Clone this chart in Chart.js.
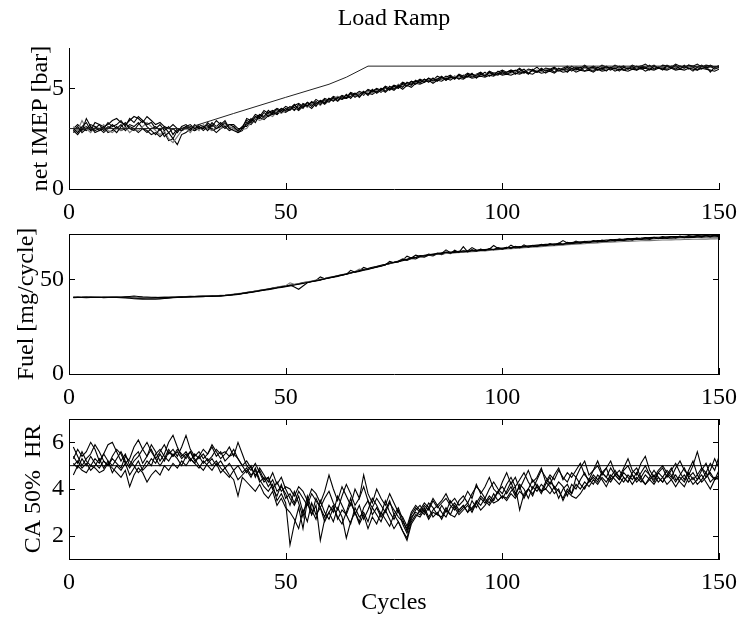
<!DOCTYPE html>
<html>
<head>
<meta charset="utf-8">
<title>Load Ramp</title>
<script src="https://cdn.jsdelivr.net/npm/chart.js@4.4.0/dist/chart.umd.min.js"></script>
<style>
  body { margin: 0; background: #fff; }
  #wrap { position: relative; width: 740px; height: 619px; }
  #wrap canvas { position: absolute; left: 0; }
</style>
</head>
<body>
<div id="wrap">
  <canvas id="grafico_imep" width="740" height="232" style="top:0px"></canvas>
  <canvas id="grafico_fuel" width="740" height="198" style="top:220px"></canvas>
  <canvas id="grafico_ca50" width="740" height="201" style="top:418px"></canvas>
</div>
<script>
// x axis: engine cycles, first sample is cycle 1
var first_cycle = 1;
var cycle_ticks = [0, 50, 100, 150];

// ---- net IMEP [bar] ----
var imep_ticks = [0, 5];
// setpoint ramp, read at its corners
var imep_ref_x = [0, 27, 38, 50, 60, 64, 69, 150];
var imep_ref_y = [3.0, 3.0, 3.75, 4.55, 5.2, 5.55, 6.1, 6.1];
var imep_1 = [3.0,2.8,3.1,3.3,2.9,3.0,3.2,2.9,3.1,3.0, 2.8,3.1,3.3,3.0,2.9,3.2,3.4,3.1,2.9,2.7, 3.0,2.6,2.8,2.5,2.9,3.0,3.1,2.9,3.2,3.0,
  3.1,2.9,3.2,3.0,3.1,3.3,3.0,2.9,2.8,3.0, 3.2,3.5,3.3,3.7,3.6,3.9,3.7,3.8,4.0,3.9, 4.1,3.9,4.2,4.0,4.3,4.1,4.35,4.2,4.45,4.3,
  4.55,4.4,4.6,4.5,4.75,4.55,4.7,4.85,4.65,4.9, 4.8,5.0,4.85,5.1,4.95,5.15,5.05,5.3,5.2,5.4, 5.25,5.45,5.3,5.5,5.35,5.55,5.4,5.6,5.45,5.65,
  5.5,5.7,5.55,5.65,5.75,5.6,5.8,5.65,5.85,5.7, 5.8,5.9,5.7,5.85,5.95,5.75,5.9,5.8,6.0,5.85, 5.95,5.8,6.0,5.9,6.05,5.85,6.0,5.9,6.1,5.95,
  5.85,6.05,5.9,6.1,5.95,6.0,5.85,6.05,5.95,6.1, 5.9,6.05,6.0,6.15,5.95,6.05,5.9,6.1,6.0,6.15, 5.95,6.1,6.0,5.85,6.05,6.15,6.0,6.1,5.95,6.05, 6.0];
var imep_2 = [2.9,3.1,2.8,3.0,3.2,3.1,2.9,3.0,3.3,3.1, 3.2,3.4,3.1,3.5,3.3,3.6,3.4,3.2,3.3,3.0, 3.2,2.9,3.1,2.7,3.0,2.9,3.1,3.2,3.0,3.1,
  3.0,3.3,3.1,3.4,3.2,3.0,3.2,3.1,2.9,3.1, 3.4,3.3,3.6,3.5,3.8,3.6,3.75,3.95,3.8,4.0, 3.9,4.15,4.0,4.2,4.1,4.35,4.2,4.4,4.25,4.5,
  4.35,4.55,4.45,4.7,4.5,4.75,4.6,4.8,4.7,4.95, 4.75,4.9,5.05,4.9,5.1,5.0,5.25,5.1,5.35,5.2, 5.4,5.3,5.5,5.35,5.45,5.6,5.4,5.55,5.5,5.65,
  5.55,5.6,5.75,5.5,5.7,5.6,5.8,5.7,5.65,5.85, 5.7,5.8,5.9,5.75,5.85,5.7,5.95,5.8,5.9,5.75, 5.9,6.0,5.85,5.95,5.8,6.0,5.9,6.05,5.85,6.0,
  6.05,5.9,6.0,5.85,6.05,5.95,6.1,5.9,6.0,5.95, 6.1,5.95,6.0,5.9,6.1,6.0,5.95,6.15,6.05,5.95, 6.1,6.0,6.15,6.05,5.9,6.1,6.0,6.15,6.05,6.1, 5.95];
var imep_3 = [3.1,2.9,3.4,3.0,2.8,3.1,3.0,3.2,2.9,2.8, 3.0,2.9,3.1,2.8,3.0,2.9,3.1,3.3,3.1,2.9, 2.7,2.9,2.5,2.3,2.6,2.9,3.0,2.8,3.1,2.9,
  3.2,3.0,2.9,3.1,3.0,3.2,3.1,3.0,2.85,2.95, 3.0,3.3,3.5,3.4,3.5,3.7,3.6,3.85,3.75,3.9, 4.05,3.9,4.1,4.2,4.05,4.25,4.3,4.15,4.4,4.35,
  4.45,4.6,4.5,4.6,4.7,4.6,4.8,4.7,4.85,4.75, 4.9,4.85,5.0,5.05,5.0,5.2,5.1,5.2,5.3,5.25, 5.35,5.4,5.35,5.45,5.5,5.45,5.55,5.5,5.6,5.55,
  5.6,5.65,5.6,5.7,5.65,5.7,5.75,5.7,5.8,5.75, 5.8,5.75,5.85,5.8,5.85,5.9,5.85,5.9,5.85,5.95, 5.9,5.95,5.9,5.95,6.0,5.95,6.0,5.95,6.0,6.0,
  5.95,6.0,6.0,5.95,6.0,6.05,6.0,6.0,6.05,6.0, 6.0,6.05,6.0,6.05,6.0,6.05,6.05,6.0,6.05,6.0, 6.05,6.0,6.05,6.05,6.0,6.05,6.0,6.05,6.0,6.0, 5.95];
var imep_4 = [2.8,3.0,2.9,3.5,3.1,2.9,3.0,2.8,3.0,3.2, 3.0,3.2,2.9,3.1,3.0,2.8,3.0,2.9,2.7,2.8, 2.6,2.8,2.4,2.5,2.2,2.7,2.8,3.0,2.9,3.1,
  2.9,3.1,3.0,2.8,3.0,3.1,2.9,3.0,2.9,3.1, 3.1,3.4,3.5,3.7,3.5,3.8,3.9,3.7,4.0,3.85, 4.0,4.2,3.95,4.25,4.15,4.3,4.1,4.4,4.3,4.5,
  4.4,4.6,4.45,4.55,4.75,4.6,4.8,4.65,4.9,4.8, 4.95,4.8,5.0,4.95,5.15,5.0,5.2,5.25,5.15,5.35, 5.3,5.45,5.35,5.5,5.4,5.45,5.6,5.5,5.6,5.45,
  5.65,5.55,5.7,5.6,5.65,5.8,5.6,5.75,5.7,5.8, 5.75,5.85,5.8,5.95,5.75,5.9,5.85,5.8,5.95,5.9, 5.85,5.95,5.9,6.0,5.9,6.1,5.95,5.9,6.05,5.95,
  6.0,5.9,6.05,6.0,5.9,6.05,6.0,6.1,5.95,6.05, 5.95,6.1,6.05,5.95,6.1,6.0,6.05,5.95,6.1,6.05, 6.0,6.15,5.95,6.1,6.05,5.95,6.1,5.8,6.05,6.1, 6.0];
var imep_5 = [3.0,3.2,3.0,3.1,2.9,3.3,3.2,3.1,3.2,3.4, 3.5,3.3,3.2,3.4,3.6,3.5,3.3,3.6,3.4,3.2, 3.3,3.1,3.0,3.2,3.0,2.9,3.0,3.1,3.0,3.2,
  3.1,3.0,3.3,3.1,3.3,3.1,3.2,3.2,3.0,3.0, 3.5,3.4,3.7,3.6,3.9,3.75,3.85,4.0,3.9,4.1, 4.0,4.15,4.25,4.1,4.3,4.2,4.45,4.3,4.5,4.4,
  4.6,4.5,4.65,4.55,4.8,4.7,4.85,4.75,4.95,4.85, 5.0,4.9,5.1,5.0,5.15,5.1,5.3,5.2,5.35,5.3, 5.45,5.35,5.5,5.4,5.6,5.5,5.55,5.65,5.5,5.7,
  5.6,5.75,5.65,5.7,5.8,5.65,5.85,5.75,5.8,5.9, 5.8,5.9,5.85,6.0,5.8,5.95,5.9,6.05,5.85,6.0, 5.95,6.05,5.9,6.0,6.1,5.95,6.05,6.0,6.15,6.0,
  6.1,6.0,6.15,6.05,6.0,6.15,6.05,6.1,6.0,6.15, 6.05,6.1,6.2,6.05,6.15,6.0,6.15,6.1,6.05,6.2, 6.1,6.05,6.15,6.1,6.2,6.05,6.15,6.1,6.05,6.1, 6.05];
var imep_6 = [2.9,2.7,3.0,2.9,3.1,2.8,2.9,3.1,2.8,2.9, 3.1,2.9,3.0,3.2,3.1,3.3,3.0,2.8,3.0,3.1, 2.9,3.1,2.8,3.0,2.8,3.1,3.2,3.0,2.9,3.0,
  3.0,3.2,2.9,3.0,3.2,3.4,3.0,3.1,2.8,2.9, 3.3,3.2,3.45,3.55,3.45,3.65,3.8,3.7,3.9,3.8, 3.95,4.05,3.9,4.1,4.15,4.0,4.25,4.35,4.2,4.4,
  4.5,4.35,4.55,4.5,4.6,4.75,4.55,4.8,4.75,4.7, 4.85,4.95,4.8,5.0,4.9,5.1,4.95,5.15,5.05,5.25, 5.2,5.3,5.4,5.25,5.4,5.35,5.5,5.4,5.55,5.5,
  5.45,5.6,5.5,5.55,5.6,5.55,5.65,5.6,5.75,5.65, 5.7,5.65,5.75,5.7,5.8,5.75,5.7,5.85,5.75,5.8, 5.85,5.75,5.9,5.8,5.85,5.95,5.8,5.9,5.85,5.9,
  5.8,5.95,5.85,5.9,6.0,5.85,5.95,5.9,5.85,5.95, 5.9,6.0,5.85,5.95,5.9,6.0,5.95,5.9,6.0,5.9, 5.95,5.9,6.0,5.95,5.9,6.0,5.95,5.9,5.85,5.95, 5.85];

// ---- Fuel [mg/cycle] ----
var fuel_ticks = [0, 50];
var fuel_max = 74;
var fuel_1 = [40.6,40.4,40.5,40.7,40.5,40.6,40.4,40.5,40.6,40.5, 40.7,40.6,40.8,41.0,41.2,41.0,40.8,40.7,40.6,40.5, 40.4,40.5,40.6,40.5,40.7,40.8,40.7,40.9,41.0,40.9,
  41.0,41.1,41.0,41.2,41.3,41.4,41.6,41.8,42.1,42.4, 42.8,43.1,43.5,43.9,44.3,44.6,45.0,45.5,45.8,46.2, 46.6,47.0,47.5,47.9,48.4,48.8,49.3,49.8,50.2,50.7,
  51.2,51.6,52.2,52.7,54.8,53.8,54.2,54.8,55.3,55.9, 56.5,57.0,57.6,59.5,58.8,59.4,59.9,60.5,61.1,61.6, 62.1,62.5,62.8,63.2,63.4,63.7,65.6,64.1,64.3,64.5,
  64.6,64.8,65.0,65.2,65.3,65.5,65.7,65.9,66.0,66.2, 66.4,68.1,66.7,66.9,67.1,67.3,67.4,67.6,67.8,68.0, 68.2,68.3,68.5,68.7,68.8,69.0,69.1,69.3,69.5,69.6,
  69.8,69.9,70.1,70.2,70.3,70.5,70.6,70.7,70.8,71.0, 71.1,71.2,71.3,71.4,71.5,71.6,71.7,71.8,71.8,71.9, 72.0,72.1,72.1,72.2,72.3,72.3,72.4,72.4,72.5,72.5, 72.6];
var fuel_2 = [40.3,40.5,40.4,40.3,40.5,40.4,40.6,40.3,40.4,40.5, 40.4,40.3,40.2,40.0,39.8,39.7,39.6,39.5,39.6,39.5, 39.7,39.9,40.1,40.3,40.5,40.6,40.8,40.7,40.9,41.0,
  40.9,41.1,41.2,41.1,41.3,41.5,41.7,42.0,42.3,42.6, 43.0,43.3,43.6,44.1,44.5,44.9,45.3,45.6,46.1,46.3, 47.0,46.0,44.8,46.5,48.2,48.9,49.2,49.6,50.3,50.9,
  51.4,51.9,52.4,52.8,53.5,54.0,54.6,55.4,55.8,56.4, 56.8,57.5,58.0,58.6,59.1,59.7,60.6,60.5,61.6,61.5, 62.6,62.3,63.4,62.9,63.9,63.5,64.4,63.9,64.8,64.3,
  67.3,64.6,65.4,64.9,66.0,65.3,66.3,65.7,66.8,66.0, 67.0,66.4,67.4,66.8,68.3,67.0,68.0,67.5,68.5,67.9, 68.9,68.2,69.2,68.6,69.6,69.0,70.3,69.3,70.1,69.6,
  70.5,69.9,70.8,70.2,71.1,70.5,71.3,70.8,71.6,71.0, 71.9,71.2,72.1,71.5,72.3,71.7,72.6,71.9,72.7,72.1, 72.9,72.3,73.1,72.5,73.2,72.6,73.3,72.8,73.4,72.9, 73.4];
var fuel_3 = [40.8,40.6,40.7,40.5,40.6,40.8,40.7,40.6,40.8,40.7, 40.6,40.8,40.9,40.7,40.6,40.4,40.3,40.2,40.3,40.2, 40.3,40.2,40.4,40.6,40.7,40.9,41.0,40.9,41.1,41.2,
  41.2,41.3,41.2,41.4,41.6,41.7,41.9,42.2,42.5,42.8, 43.2,43.5,43.9,44.2,44.7,45.1,45.5,45.9,46.4,46.7, 48.2,47.4,47.8,48.2,48.7,49.2,49.6,50.1,50.5,51.1,
  51.5,52.1,52.6,53.0,53.6,54.2,55.4,55.0,55.7,56.2, 56.9,57.3,57.9,58.5,58.9,59.6,61.0,60.6,61.2,61.7, 62.3,62.6,62.9,63.1,63.3,63.5,63.7,63.8,64.0,64.2,
  64.3,64.5,64.6,64.8,65.0,65.1,65.3,65.5,65.7,65.9, 66.1,66.2,66.4,66.5,66.7,66.9,67.0,67.2,67.3,67.5, 67.7,67.8,68.0,68.1,68.3,68.5,68.6,68.8,68.9,69.1,
  69.2,69.3,69.5,69.6,69.7,69.8,69.9,70.0,70.1,70.2, 70.3,70.4,70.5,70.5,70.6,70.7,70.8,70.8,70.9,71.0, 71.0,71.1,71.1,71.2,71.2,71.3,71.3,71.4,71.4,71.5, 71.5];
var fuel_4 = [40.5,40.7,40.6,40.5,40.7,40.6,40.5,40.7,40.6,40.5, 40.6,40.5,40.4,40.6,40.5,40.3,40.4,40.2,40.4,40.3, 40.5,40.6,40.5,40.7,40.6,40.8,40.9,41.1,41.0,41.2,
  41.3,41.2,41.4,41.5,41.4,41.6,41.9,42.1,42.4,42.7, 43.0,43.4,43.7,44.0,44.6,44.8,45.4,45.7,46.0,46.5, 46.9,47.2,47.6,48.1,48.5,49.0,49.4,51.3,50.4,50.8,
  51.3,51.8,52.3,52.9,53.4,54.0,54.5,56.4,55.5,56.1, 56.6,57.2,57.7,58.4,59.0,59.5,60.2,62.3,61.3,62.8, 62.2,62.7,63.0,63.4,63.7,64.0,64.3,64.5,64.6,64.8,
  65.0,65.1,66.8,65.5,65.6,65.8,66.0,67.9,66.4,66.6, 66.8,66.9,67.1,67.4,67.5,67.7,67.9,68.1,68.3,68.5, 68.6,68.8,69.0,70.5,69.3,69.5,69.7,69.9,70.0,70.2,
  70.3,70.5,70.6,70.8,70.9,71.1,71.2,71.3,71.5,71.6, 71.7,71.8,72.0,72.1,72.2,72.3,72.4,72.5,72.6,72.7, 72.7,72.8,72.9,72.9,73.0,73.0,73.1,73.1,73.2,73.2, 73.3];
var fuel_5 = [40.4,40.6,40.5,40.6,40.4,40.5,40.6,40.4,40.5,40.6, 40.5,40.6,40.5,40.3,40.2,40.1,40.0,40.1,40.0,40.1, 40.2,40.1,40.3,40.4,40.6,40.5,40.7,40.8,40.8,41.0,
  41.1,41.0,41.2,41.3,41.4,41.5,41.8,42.0,42.2,42.6, 42.9,43.3,43.8,44.2,44.4,44.9,45.2,45.8,46.2,46.5, 46.8,47.3,47.7,48.3,48.6,48.9,49.5,49.9,50.4,51.0,
  51.3,51.9,52.3,52.8,53.3,53.9,54.6,55.0,55.6,56.0, 56.7,57.1,57.8,58.3,59.0,59.2,60.4,60.0,61.1,60.8, 62.0,61.7,62.8,62.4,63.6,63.1,64.1,63.6,65.4,64.2,
  65.1,64.5,65.8,64.9,65.9,65.2,66.2,65.7,66.6,65.9, 66.9,66.3,67.5,66.7,67.6,67.0,67.9,67.3,68.3,67.7, 68.6,68.0,68.9,68.3,69.3,68.7,69.6,69.0,69.9,69.3,
  70.3,69.7,70.5,69.9,70.9,70.2,71.1,70.5,71.4,70.8, 71.6,71.0,71.9,71.2,72.1,71.5,72.3,71.7,72.6,71.9, 72.6,72.0,72.9,72.2,73.0,72.4,73.1,72.5,73.2,72.6, 73.1];

// ---- CA 50% HR ----
var ca_ticks = [2, 4, 6];
var ca_ref_x = [0, 150];
var ca_ref_y = [5, 5];
var ca_1 = [5.8,5.4,5.0,5.3,5.5,5.9,5.6,5.2,5.0,5.4, 5.7,5.5,5.1,5.3,5.8,6.1,5.7,5.4,5.9,5.6, 5.2,5.5,6.0,6.3,5.8,5.4,5.6,5.3,5.1,5.4,
  5.7,5.5,5.9,5.6,5.3,5.5,5.8,5.4,6.0,5.5, 5.0,4.8,5.1,4.7,4.3,4.5,4.0,3.7,4.2,3.6, 3.8,3.4,3.9,3.6,3.3,3.8,3.5,3.2,3.6,3.9,
  3.4,3.1,3.7,4.2,3.8,3.3,3.6,4.1,3.5,3.2, 3.6,3.3,3.0,3.4,3.1,2.8,2.6,2.3,2.9,3.2, 3.0,3.3,3.1,3.5,3.2,3.4,3.6,3.3,3.1,3.5,
  3.7,3.4,3.8,4.1,3.9,3.6,4.0,4.3,4.0,3.8, 4.2,4.5,4.1,4.4,4.7,4.3,4.0,4.4,4.8,4.5, 4.2,4.6,4.9,4.4,4.7,4.5,4.8,5.1,4.6,4.4,
  4.8,5.2,4.7,4.5,4.9,4.6,4.4,4.8,5.0,4.6, 4.4,4.7,5.0,4.6,4.3,4.7,4.9,4.5,4.8,5.1, 4.7,4.4,4.8,5.2,4.6,4.9,4.5,4.8,5.3,4.9, 5.2];
var ca_2 = [5.0,5.2,4.9,5.1,4.8,5.0,5.3,4.9,5.2,4.7, 5.0,4.8,5.1,4.6,4.9,5.2,4.8,5.0,5.3,5.1, 5.5,5.2,5.6,5.4,5.7,5.5,5.3,5.6,5.2,5.4,
  5.1,5.3,5.0,5.2,4.9,4.7,4.5,4.8,4.4,4.6, 4.8,4.5,4.9,4.4,4.1,3.9,4.2,3.5,3.8,3.4, 1.6,2.5,3.2,2.3,3.5,2.9,3.3,1.8,2.7,3.0,
  2.6,3.2,2.8,1.9,2.6,3.0,2.5,2.9,2.3,2.8, 2.5,3.0,2.7,2.4,2.9,2.6,2.2,1.8,2.5,2.8, 3.1,2.9,3.2,2.8,3.0,2.7,3.1,2.9,3.3,3.0,
  3.2,3.4,3.1,3.5,3.3,3.6,3.4,3.8,3.5,3.7, 3.6,3.9,4.1,3.1,3.8,4.0,3.7,4.2,3.9,4.3, 4.1,3.8,4.0,3.5,3.9,3.7,3.6,3.8,4.1,4.3,
  4.6,4.4,4.7,4.5,4.3,4.6,4.4,4.7,4.5,4.2, 4.5,4.3,4.6,4.4,4.2,4.5,4.3,4.6,4.4,4.1, 4.4,4.6,4.3,4.5,4.2,4.4,4.7,4.3,4.5,4.4, 4.2];
var ca_3 = [5.3,5.7,5.4,5.6,6.0,5.7,5.2,5.5,5.9,6.0, 5.6,5.2,5.5,5.0,5.4,5.6,5.1,5.4,5.7,5.3, 5.6,5.9,5.5,5.7,5.4,5.8,6.3,5.7,5.4,5.6,
  5.3,5.5,5.8,5.4,5.6,5.2,5.4,5.7,5.3,5.0, 5.2,4.9,4.6,4.8,4.4,4.5,4.0,4.3,3.9,4.1, 4.0,3.7,4.1,3.9,3.5,4.0,3.8,3.4,3.9,4.6,
  4.0,3.5,4.1,3.7,3.3,4.0,3.6,4.6,3.8,3.4, 4.0,3.6,3.3,3.8,3.4,3.0,2.8,2.4,3.0,3.3, 3.1,3.4,3.2,3.6,3.3,3.5,3.8,3.4,3.6,3.3,
  3.5,3.9,3.6,4.2,3.8,4.1,4.5,4.0,3.8,4.3, 4.7,4.2,4.5,4.0,4.4,4.8,4.3,4.5,4.9,4.3, 4.6,4.4,4.8,4.5,4.3,4.7,4.5,4.9,5.2,4.6,
  4.8,5.0,4.6,4.9,5.2,4.7,4.5,4.9,5.3,4.8, 4.6,5.1,5.4,4.8,4.5,4.8,5.0,4.7,4.5,4.9, 5.2,4.8,4.6,5.0,5.6,4.9,4.7,5.1,4.8,5.4, 5.0];
var ca_4 = [4.6,5.0,4.8,4.7,5.0,4.9,4.7,4.8,5.1,4.9, 4.7,4.5,4.8,4.1,4.6,4.9,4.7,4.3,4.6,4.8, 4.6,5.0,4.8,5.1,4.9,5.2,5.0,5.3,5.1,4.9,
  5.2,5.0,4.8,5.1,4.7,4.9,4.6,4.4,3.7,4.5, 4.3,4.1,3.9,4.2,3.8,3.6,3.9,3.3,3.6,3.2, 3.0,2.7,2.3,3.1,2.6,3.4,2.9,3.2,2.6,3.0,
  3.3,2.7,3.1,2.9,2.5,3.2,2.8,3.0,2.6,3.2, 2.9,2.6,3.1,2.7,2.3,2.6,2.2,1.9,2.6,2.9, 2.8,3.1,2.7,3.0,2.9,2.8,3.2,2.9,2.8,3.1,
  3.3,3.0,3.2,3.4,3.1,3.3,3.6,3.4,3.5,3.7, 3.5,3.8,3.6,3.9,3.7,4.0,3.8,4.1,3.9,4.0, 3.8,4.1,3.9,3.6,4.0,3.8,4.2,4.0,4.3,4.1,
  4.4,4.2,4.5,4.3,4.6,4.4,4.2,4.5,4.3,4.6, 4.3,4.5,4.2,4.4,4.6,4.3,4.5,4.2,4.4,4.6, 4.3,4.1,4.5,4.2,4.4,4.6,4.3,4.0,4.4,4.5, 4.7];
var ca_5 = [5.4,5.1,5.6,5.2,5.0,5.3,5.1,5.5,5.2,5.0, 5.3,5.6,5.2,4.9,5.2,5.4,5.7,6.0,5.6,5.3, 5.0,5.3,5.7,5.4,5.6,5.3,5.5,5.2,5.5,5.3,
  5.5,5.2,5.4,5.7,5.5,5.6,5.4,5.5,5.3,5.0, 4.7,5.0,4.5,4.9,4.6,4.3,4.7,4.2,4.5,4.0, 3.6,3.3,3.7,3.0,3.4,2.9,3.6,3.2,2.8,3.3,
  3.0,3.7,3.3,2.9,3.4,3.0,2.6,3.2,3.5,2.9, 3.2,2.8,3.1,3.5,2.9,3.2,2.7,2.2,2.8,3.0, 2.9,3.2,2.8,3.1,3.3,3.0,2.8,3.2,3.4,3.1,
  3.3,3.0,3.5,3.2,3.6,3.4,3.7,3.5,3.9,3.6, 3.9,4.3,3.8,4.1,3.6,4.0,4.4,4.1,3.8,4.2, 4.5,4.0,4.3,4.1,3.7,4.2,4.0,4.4,4.7,4.3,
  4.5,4.3,4.7,4.9,4.4,4.6,4.8,4.5,4.3,4.7, 4.9,4.5,4.8,4.6,4.4,4.7,4.5,4.8,4.6,4.3, 4.6,4.9,4.5,4.7,4.4,4.8,5.1,4.6,4.4,4.8, 5.1];
var ca_6 = [5.1,4.9,5.3,5.0,5.4,5.1,4.9,5.2,5.0,5.3, 5.1,4.9,5.4,5.2,5.0,4.7,4.9,5.2,5.0,5.5, 5.7,5.4,5.2,5.5,5.3,5.0,5.4,5.6,5.3,5.0,
  4.8,5.1,5.3,5.0,5.2,4.9,5.1,4.8,5.0,4.7, 4.9,4.6,4.8,4.3,4.5,4.1,4.4,3.9,4.1,3.8, 3.3,3.9,3.4,2.8,3.7,3.1,2.7,3.5,3.0,2.7,
  3.2,2.8,2.5,3.0,3.6,2.9,3.3,2.7,3.1,3.6, 3.3,2.9,3.5,3.0,2.7,3.1,2.5,2.1,2.7,3.1, 3.3,3.0,3.4,3.2,2.9,3.3,3.0,3.5,3.2,2.9,
  3.1,3.3,3.0,3.4,3.7,3.5,3.3,3.6,3.9,4.1, 3.8,4.1,3.7,4.2,4.0,3.6,4.1,3.9,4.2,4.0, 4.3,4.1,3.6,4.0,4.2,3.8,4.5,4.2,4.0,4.4,
  4.2,4.6,4.4,4.1,4.5,4.8,4.5,4.3,4.6,4.4, 4.7,4.4,4.2,4.5,4.8,4.5,4.3,4.6,4.9,4.4, 4.5,4.3,4.7,4.4,4.6,4.3,4.5,4.7,4.4,4.6, 4.9];

var font_family = "'Liberation Serif', 'Times New Roman', serif";
Chart.defaults.font.family = font_family;
Chart.defaults.font.size = 24;
Chart.defaults.color = '#000';

// samples -> {x: cycle, y: value}
function to_points(values) {
  var out = [];
  for (var i = 0; i < values.length; i++) {
    out.push({x: first_cycle + i, y: values[i]});
  }
  return out;
}

function ref_points(xs, ys) {
  var out = [];
  for (var i = 0; i < xs.length; i++) {
    out.push({x: xs[i], y: ys[i]});
  }
  return out;
}

function trace(values, color) {
  return {
    data: to_points(values),
    borderColor: color || '#000',
    borderWidth: 1.1,
    pointRadius: 0,
    tension: 0,
    fill: false
  };
}

// matlab style: ticks pointing inside, optional full box
var inner_ticks = {
  id: 'inner_ticks',
  afterDraw: function(chart, args, opts) {
    var ctx = chart.ctx;
    var a = chart.chartArea;
    var sx = chart.scales.x;
    var sy = chart.scales.y;
    var len = 6;
    ctx.save();
    ctx.strokeStyle = '#000';
    ctx.lineWidth = 1;
    ctx.beginPath();
    sx.ticks.forEach(function(t) {
      var px = Math.round(sx.getPixelForValue(t.value)) + 0.5;
      ctx.moveTo(px, a.bottom);
      ctx.lineTo(px, a.bottom - len);
      if (opts.box) {
        ctx.moveTo(px, a.top);
        ctx.lineTo(px, a.top + len);
      }
    });
    sy.ticks.forEach(function(t) {
      var py = Math.round(sy.getPixelForValue(t.value)) + 0.5;
      ctx.moveTo(a.left, py);
      ctx.lineTo(a.left + len, py);
      if (opts.box) {
        ctx.moveTo(a.right, py);
        ctx.lineTo(a.right - len, py);
      }
    });
    if (opts.box) {
      ctx.moveTo(a.left, Math.round(a.top) + 0.5);
      ctx.lineTo(a.right, Math.round(a.top) + 0.5);
      ctx.moveTo(Math.round(a.right) - 0.5, a.top);
      ctx.lineTo(Math.round(a.right) - 0.5, a.bottom);
    }
    ctx.stroke();
    ctx.restore();
  }
};

function draw_panel(canvas_id, cfg) {
  var canvas = document.getElementById(canvas_id);
  var h = canvas.height;
  return new Chart(canvas, {
    type: 'line',
    data: { datasets: cfg.datasets },
    plugins: [inner_ticks],
    options: {
      responsive: false,
      animation: false,
      events: [],
      layout: { padding: { top: cfg.top, right: 21, bottom: 0, left: 0 } },
      plugins: {
        legend: { display: false },
        tooltip: { enabled: false },
        title: cfg.title ? {
          display: true,
          fullSize: false,
          text: cfg.title,
          font: { size: 24, weight: 'normal', family: font_family },
          color: '#000',
          padding: { top: 4, bottom: 15.2 }
        } : { display: false },
        inner_ticks: { box: cfg.box }
      },
      scales: {
        x: {
          type: 'linear',
          min: 0,
          max: 150,
          grid: { display: false, drawTicks: false },
          border: { display: true, color: '#000', width: 1 },
          ticks: { padding: 9, maxRotation: 0 },
          title: cfg.xlabel ? { display: true, text: cfg.xlabel, padding: { top: 0, bottom: 1.6 } } : { display: false },
          afterBuildTicks: function(s) {
            s.ticks = cycle_ticks.map(function(v) { return {value: v}; });
          },
          afterFit: function(s) {
            s.height = h - cfg.bottom;
            s.paddingLeft = 0;
            s.paddingRight = 0;
          }
        },
        y: {
          min: cfg.ymin,
          max: cfg.ymax,
          grid: { display: false, drawTicks: false },
          border: { display: true, color: '#000', width: 1 },
          ticks: { padding: 5 },
          title: { display: true, text: cfg.ylabel, padding: { top: cfg.ylabel_pos - 14.4, bottom: 0 } },
          afterBuildTicks: function(s) {
            s.ticks = cfg.yticks.map(function(v) { return {value: v}; });
          },
          afterFit: function(s) {
            s.width = 69;
            s.paddingTop = 0;
            s.paddingBottom = 0;
          }
        }
      }
    }
  });
}

var imep_ref = {
  data: ref_points(imep_ref_x, imep_ref_y),
  borderColor: '#222',
  borderWidth: 1,
  pointRadius: 0,
  fill: false
};
draw_panel('grafico_imep', {
  title: 'Load Ramp',
  top: 0,
  bottom: 189,
  box: false,
  ymin: 0, ymax: 7,
  yticks: imep_ticks,
  ylabel: 'net IMEP [bar]',
  ylabel_pos: 41,
  datasets: [imep_ref, trace(imep_1), trace(imep_2), trace(imep_3, '#777'), trace(imep_4), trace(imep_5), trace(imep_6)]
});

// panel 2 canvas starts at 220 so the rotated label is not cut
draw_panel('grafico_fuel', {
  top: 14,
  bottom: 374 - 220,
  box: true,
  ymin: 0, ymax: fuel_max,
  yticks: fuel_ticks,
  ylabel: 'Fuel [mg/cycle]',
  ylabel_pos: 27,
  datasets: [trace(fuel_1), trace(fuel_2), trace(fuel_3, '#777'), trace(fuel_4), trace(fuel_5)]
});

var ca_ref = {
  data: ref_points(ca_ref_x, ca_ref_y),
  borderColor: '#000',
  borderWidth: 1,
  pointRadius: 0,
  fill: false
};
draw_panel('grafico_ca50', {
  top: 1,
  bottom: 559 - 418,
  box: true,
  ymin: 1, ymax: 7,
  yticks: ca_ticks,
  ylabel: 'CA 50%  HR',
  ylabel_pos: 34,
  xlabel: 'Cycles',
  datasets: [ca_ref, trace(ca_1), trace(ca_2), trace(ca_3), trace(ca_4), trace(ca_5), trace(ca_6)]
});
</script>
</body>
</html>
